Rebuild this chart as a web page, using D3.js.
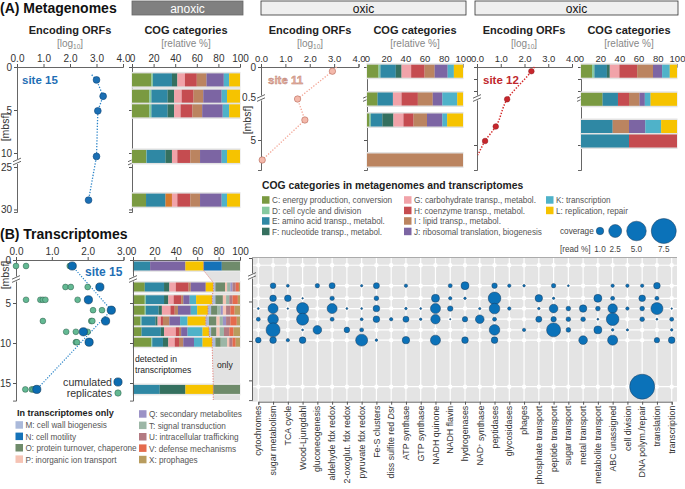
<!DOCTYPE html>
<html><head><meta charset="utf-8">
<script src="https://cdn.jsdelivr.net/npm/d3@7/dist/d3.min.js"></script>
<style>
body{margin:0;background:#fff;}
svg{display:block;}
</style></head><body>
<svg id="c" width="685" height="489"></svg>
<script>
// ---------------- DATA ----------------
const cogKeys = ["C","D","E","F","G","H","I","J","K","L"];
const cogNames = ["C: energy production, conversion","D: cell cycle and division","E: amino acid transp., metabol.","F: nucleotide transp., metabol.",
  "G: carbohydrate transp., metabol.","H: coenzyme transp., metabol.","I : lipid transp., metabol.","J: ribosomal translation, biogenesis",
  "K: transcription","L: replication, repair"];
const onlyKeys = ["M","N","O","P","Q","T","U","V","X"];
const onlyNames = ["M: cell wall biogenesis","N: cell motility","O: protein turnover, chaperone","P: inorganic ion transport",
  "Q: secondary metabolites","T: signal transduction","U: intracellular trafficking","V: defense mechanisms","X: prophages"];
const catColors = {C:"#7a9a41",D:"#86c9a0",E:"#2f88a4",F:"#35705f",F2:"#d6792c",G:"#f1a3a9",H:"#c54c50",I:"#bb8460",J:"#7c65a3",
  K:"#4fb2c9",L:"#f6c300",M:"#aab9da",N:"#1572b8",O:"#6f8b6b",P:"#f6c3b4",Q:"#9b92c6",T:"#9cb6a6",U:"#b37a82",V:"#e56b4d",X:"#b89c5e"};

const orfTicks = [0,1,2,3,4];
const pctTicks = [0,20,40,60,80,100];

// Site 15 metagenomes
const s15Depth = [1.5, 3.4, 5.1, 10.4, 28.9];
const s15Orfs  = [3.0, 3.25, 3.05, 3.0, 2.7];
const s15LineStart = [2.82, 0.9];
const s15Cog = [
  [["C",18],["D",1.4],["E",17.6],["F",5],["G",7],["H",11],["I",9],["J",16],["K",5],["L",10]],
  [["C",16],["D",2],["E",15],["F",6],["G",7],["H",11],["I",9],["J",17],["K",5],["L",12]],
  [["C",16],["D",2],["E",15],["F",6],["G",6],["H",11],["I",9],["J",19],["K",6],["L",10]],
  [["C",13],["D",0.5],["E",17.5],["F",6],["G",5],["H",12],["I",9],["J",20],["K",5],["L",12]],
  [["C",13],["E",18],["F2",6],["G",5],["H",12],["I",9],["J",20],["K",5],["L",12]]
];
const s15YTicks = [0,5,10,25,30];

// Site 11 metagenomes
const s11Depth = [0.07, 0.9, 3.0, 7.0];
const s11Orfs  = [2.93, 1.5, 1.8, 0.05];
const s11LineStart = [3.1, 0];
const s11Cog = [
  [["C",12],["D",2],["E",16],["F",6],["G",10],["H",14],["I",10.5],["J",13.5],["K",6.5],["L",9.5]],
  [["C",11],["E",16],["G",9],["H",17],["I",15.5],["J",10],["K",15.5],["L",6]],
  [["C",2.5],["D",1.5],["E",12],["F",11.5],["G",10.5],["H",10.5],["I",14],["J",16],["K",5],["L",16.5]],
  [["I",100]]
];
const s11YTicks = [0,0.5,5];
const s11YLabels = ["0","0.5","5"];

// Site 12 metagenomes
const s12Depth = [0.07, 0.93, 3.65, 5.1];
const s12Orfs  = [2.29, 1.27, 0.79, 0.34];
const s12LineStart = [2.42, 0];
const s12LineEnd = [0.04, 6.5];
const s12Cog = [
  [["C",11.5],["D",2.5],["E",13],["F",3],["G",10],["H",18.5],["I",16.5],["J",9.5],["K",8],["L",7.5]],
  [["C",22.5],["E",16],["H",11.5],["I",11],["J",5.5],["K",6],["L",27.5]],
  [["E",33],["I",17],["J",17],["K",16.5],["L",16.5]],
  [["E",50],["H",50]]
];
const s12YTicks = [0,0.2,0.4,5.5];

// Site 15 transcriptomes
const bDepth = [0.5, 3.0, 4.6, 5.9, 7.25, 8.6, 9.9, 15.8];
const bReplicates = [
  [0.0,0.28,1.5],[1.38,1.53,2.0],[0.28,0.68,0.75,0.82,1.72],[2.15,2.4],
  [0.75,2.1,2.13],[1.4,1.67,2.0],[1.67,1.7],[0.26,0.44,0.49]
];
const bCumulated = [1.57, 2.34, 2.02, 2.66, 2.5, 1.88, 2.04, 0.58];
const bLineRows = [0, 3, 7];
const bOrfTicks = [0,1,2,3];
const bYTicks = [0,5,10,15];
const bCog = [
  [["E",16],["J",33],["L",17],["N",17],["O",17]],
  [["C",11],["E",18],["F",5],["G",6],["H",12],["I",2],["J",14],["L",7],["M",2],["O",9],["P",2],["T",3],["Q",2],["U",3],["V",3],["X",1]],
  [["C",11],["D",1],["E",17],["F",4],["G",5],["H",7],["I",2],["J",6],["K",6],["L",15],["M",3],["O",7],["P",3],["T",3],["U",3],["V",5],["X",2]],
  [["C",11],["D",1],["E",12],["F",3],["G",8],["H",4],["I",3],["J",12],["K",6],["L",10],["M",3],["O",6],["T",3],["Q",2],["P",3],["U",4],["V",4],["X",5]],
  [["C",7],["D",1],["E",13],["F",2],["G",3],["H",2],["I",6],["J",10],["K",7],["L",17],["M",3],["O",7],["P",3],["T",3],["Q",3],["U",4],["V",6],["X",3]],
  [["C",8],["E",18],["F",3],["G",11],["H",3],["I",2],["J",6],["K",14],["L",6],["M",2],["O",5],["P",3],["T",4],["U",5],["V",4],["X",6]],
  [["C",17],["D",1],["E",10],["F",5],["G",6],["H",4],["I",4],["J",10],["K",8],["L",9],["M",3],["O",5],["T",6],["P",2],["U",3],["V",3],["X",4]],
  [["E",25],["F",24],["L",26],["O",25]]
];
const bBoundary = [66, 75, 74, 70, 68, 71, 74, 75];

// Functional categories (bubble chart)
const funcCats = ["cytochromes","sugar metabolism","TCA cycle","Wood-Ljungdahl","gluconeogenesis","aldehyde fdx redox",
  "2-oxoglut. fdx redox","pyruvate fdx redox","Fe-S clusters","diss sulfite red Dsr","ATP synthase","GTP synthase",
  "NADH quinone","NADH flavin","hydrogenases","NAD+ synthase","peptidases","glycosidases","phages","phosphate transport",
  "peptide transport","sugar transport","metal transport","metabolite transport","ABC unassigned","cell division",
  "DNA polym./repair","translation","transcription"];
// read % per depth row (rows follow bDepth), columns follow funcCats
const bubbleRows = [
  [0,0,0,0,0,0,0,0,0,0,0,0,0,0,0,0,0,0,0,0,0,0,0,0,0,0,0,0,0],
  [0,0.62,0.22,0,0.41,0.70,0,0.15,0.70,0,0.27,0,0,0.35,1.12,0,0.58,0.27,0.17,0,0.41,0.11,0,0,0.27,0.27,0.27,0.81,0],
  [0,0.81,0.81,0.08,0,0.41,0,0,0.45,0,0,0,1.12,0.27,0.17,0,2.39,0,0,0.99,0.15,0,0,1.12,0.35,0,0.81,0.35,0],
  [0.11,1.63,0.08,2.2,0,1.63,0.11,0.11,0.81,0,0.17,0.11,1.63,0.58,0,0.15,1.79,0.27,0,0.17,1.27,0.45,0.99,0.45,1.47,0.27,0.45,2.2,0.08],
  [0.35,1.79,0,2.2,0,0.35,0,0.22,0.81,0.27,0.70,0.17,1.47,0.06,0.58,1.27,0.35,0,0,0.70,0.58,0.45,0.45,0.11,2.39,0,0.45,0.11,0.35],
  [0,2.85,0,0.11,1.27,0,0.62,0.35,0,0,0,0,0,0,0,0,1.79,0,0.27,0,2.85,0.45,0,1.12,0.17,0.15,0,0,0.17],
  [0.62,0.81,0.27,0.81,0,0,0,2.2,0.17,0,0.99,0,1.63,0,0.81,0,0.81,0,0,0,0,0,1.27,0,1.63,0,0,0.58,0.81],
  [0,0,0,0,0,0,0,0,0,0,0,0,0,0,0,0,0,0,0,0,0,0,0,0,0,0,7.5,0,0]
];
const coverageLegend = [1.0, 2.5, 5.0, 7.5];

// ---------------- DRAWING ----------------
const svg = d3.select("#c");
const FONT = '"Liberation Sans", Arial, sans-serif';
svg.attr("font-family", FONT);

function textW(fam, str, size){
  const t = svg.append("text").attr("font-family", fam).attr("font-size", size).text(str);
  const w = t.node().getComputedTextLength(); t.remove(); return w;
}
const probe = "C: energy production, conversion";
const hasNarrow = Math.abs(textW('"Liberation Sans Narrow", monospace', probe, 10) - textW('monospace', probe, 10)) > 1;
const NFONT = hasNarrow ? '"Liberation Sans Narrow", sans-serif' : FONT;
const nsz = s => hasNarrow ? s : s * 0.82;

const AX = "#555", TXT = "#333", TICKFS = 10;
function styleAxis(g, fs){
  g.select(".domain").attr("stroke", AX).attr("stroke-width", 0.9);
  g.selectAll(".tick line").attr("stroke", AX);
  g.selectAll(".tick text").attr("fill", TXT).attr("font-size", fs || TICKFS).attr("font-family", FONT);
  return g;
}
function yBreak(x, y){
  svg.append("rect").attr("x", x-2).attr("y", y-2.5).attr("width", 4).attr("height", 5).attr("fill", "#fff");
  [-1.6, 1.6].forEach(dy => svg.append("line").attr("x1", x-4).attr("x2", x+4)
    .attr("y1", y+dy+1.8).attr("y2", y+dy-1.8).attr("stroke", AX).attr("stroke-width", 0.9));
}
function hdrBox(x0, x1, label, dark){
  svg.append("rect").attr("x", x0).attr("y", 1).attr("width", x1-x0).attr("height", 14)
    .attr("fill", dark ? "#808080" : "#efefef").attr("stroke", dark ? "#666" : "#333").attr("stroke-width", 0.8);
  svg.append("text").attr("x", (x0+x1)/2).attr("y", 12.5).attr("text-anchor", "middle")
    .attr("font-size", 12).attr("fill", dark ? "#fff" : "#111").text(label);
}
function titles(cx, title, unit, sub){
  svg.append("text").attr("x", cx).attr("y", 34).attr("text-anchor", "middle").attr("font-size", 11)
    .attr("font-weight", "bold").attr("fill", "#222").text(title);
  const t = svg.append("text").attr("x", cx).attr("y", 47).attr("text-anchor", "middle").attr("font-size", 10).attr("fill", "#888");
  if (sub) { t.append("tspan").text("[log"); t.append("tspan").attr("font-size", 6.5).attr("dy", 2).text("10"); t.append("tspan").attr("dy", -2).text("]"); }
  else t.text(unit);
}
function drawBars(rows, depths, xs, ys, h, backing){
  rows.forEach((row, i) => {
    const yc = ys(depths[i]);
    if (backing) svg.append("rect").attr("x", xs(0)-0.5).attr("y", yc-h/2-1.5).attr("width", xs(100)-xs(0)+1)
      .attr("height", h+3).attr("fill", backing);
    let acc = 0;
    row.forEach(([k, w]) => {
      svg.append("rect").attr("x", xs(acc)).attr("y", yc-h/2).attr("width", Math.max(0, xs(acc+w)-xs(acc)))
        .attr("height", h).attr("fill", catColors[k]);
      acc += w;
    });
  });
}
function ylabel(x, y, size){
  svg.append("text").attr("transform", `translate(${x},${y}) rotate(-90)`).attr("text-anchor", "middle")
    .attr("font-size", size || 10.5).attr("fill", TXT).text("[mbsf]");
}

// Headers
svg.append("text").attr("x", 0).attr("y", 13).attr("font-size", 14).attr("font-weight", "bold").attr("fill", "#111").text("(A) Metagenomes");
svg.append("text").attr("x", 0).attr("y", 239).attr("font-size", 14).attr("font-weight", "bold").attr("fill", "#111").text("(B) Transcriptomes");
hdrBox(132, 243, "anoxic", true);
hdrBox(261, 466, "oxic", false);
hdrBox(475, 678, "oxic", false);

// ---- Site 15 (A)
{
  const xo = d3.scaleLinear().domain([0,4]).range([17,123]);
  const xc = d3.scaleLinear().domain([0,100]).range([132,240]);
  const y = d3.scaleLinear().domain([0,10.5,25,30.3]).range([67,157.3,167,212]);
  titles(70, "Encoding ORFs", null, true);
  titles(186, "COG categories", "[relative %]");
  styleAxis(svg.append("g").attr("transform","translate(0,67)").call(d3.axisTop(xo).tickValues(orfTicks).tickSize(3).tickPadding(2)));
  styleAxis(svg.append("g").attr("transform","translate(0,67)").call(d3.axisTop(xc).tickValues(pctTicks).tickSize(3).tickPadding(2)));
  styleAxis(svg.append("g").attr("transform","translate(17,0)").call(d3.axisLeft(y).tickValues(s15YTicks).tickSize(3).tickPadding(2)));
  styleAxis(svg.append("g").attr("transform","translate(132,0)").call(d3.axisLeft(y).tickValues(s15YTicks).tickSize(3).tickFormat("")));
  yBreak(17, 161.5); yBreak(132, 161.5);
  ylabel(9, 127);
  drawBars(s15Cog, s15Depth, xc, y, 13, "#e3e3e3");
  const pts = [s15LineStart].concat(s15Depth.map((d,i)=>[s15Orfs[i], d]));
  svg.append("path").attr("d", d3.line().x(d=>xo(d[0])).y(d=>y(d[1]))(pts)).attr("fill","none")
    .attr("stroke","#2b84c8").attr("stroke-width",1.3).attr("stroke-dasharray","1.3,1.6");
  s15Depth.forEach((d,i)=>svg.append("circle").attr("cx",xo(s15Orfs[i])).attr("cy",y(d)).attr("r",3.4)
    .attr("fill","#1b6fb4").attr("stroke","#10487a").attr("stroke-width",0.6));
  svg.append("text").attr("x",22).attr("y",84).attr("font-size",11.5).attr("font-weight","bold").attr("fill","#1f6fb5").text("site 15");
}

// ---- Sites 11 and 12 (A)
const y11 = d3.scaleLinear().domain([0,0.5,0.9,8]).range([67,97,99,170]);
{
  const xo = d3.scaleLinear().domain([0,4]).range([261,358.5]);
  const xc = d3.scaleLinear().domain([0,100]).range([367,463]);
  titles(310, "Encoding ORFs", null, true);
  titles(415, "COG categories", "[relative %]");
  styleAxis(svg.append("g").attr("transform","translate(0,67)").call(d3.axisTop(xo).tickValues(orfTicks).tickSize(3).tickPadding(2)), 9.5);
  styleAxis(svg.append("g").attr("transform","translate(0,67)").call(d3.axisTop(xc).tickValues(pctTicks).tickSize(3).tickPadding(2)), 9.5);
  styleAxis(svg.append("g").attr("transform","translate(261,0)").call(d3.axisLeft(y11).tickValues(s11YTicks)
    .tickFormat((d,i)=>s11YLabels[i]).tickSize(3).tickPadding(2)));
  styleAxis(svg.append("g").attr("transform","translate(367,0)").call(d3.axisLeft(y11).tickValues(s11YTicks).tickSize(3).tickFormat("")));
  yBreak(261, 98); yBreak(367, 98);
  ylabel(251, 120);
  drawBars(s11Cog, s11Depth, xc, y11, 13, "#e3e3e3");
  const pts = [s11LineStart].concat(s11Depth.map((d,i)=>[s11Orfs[i], d]));
  svg.append("path").attr("d", d3.line().x(d=>xo(d[0])).y(d=>y11(d[1]))(pts)).attr("fill","none")
    .attr("stroke","#f3a595").attr("stroke-width",1.3).attr("stroke-dasharray","1.3,1.6");
  s11Depth.forEach((d,i)=>svg.append("circle").attr("cx",xo(s11Orfs[i])).attr("cy",y11(d)).attr("r",3.2)
    .attr("fill","#f4b9ab").attr("stroke","#b5695a").attr("stroke-width",0.6));
  svg.append("text").attr("x",268).attr("y",84).attr("font-size",11.5).attr("font-weight","bold")
    .attr("fill","#e9b3a4").attr("stroke","#b87a6c").attr("stroke-width",0.4).text("site 11");
}
{
  const xo = d3.scaleLinear().domain([0,4]).range([477,572]);
  const xc = d3.scaleLinear().domain([0,100]).range([581,677]);
  titles(524, "Encoding ORFs", null, true);
  titles(629, "COG categories", "[relative %]");
  styleAxis(svg.append("g").attr("transform","translate(0,67)").call(d3.axisTop(xo).tickValues(orfTicks).tickSize(3).tickPadding(2)), 9.5);
  styleAxis(svg.append("g").attr("transform","translate(0,67)").call(d3.axisTop(xc).tickValues(pctTicks).tickSize(3).tickPadding(2)), 9.5);
  styleAxis(svg.append("g").attr("transform","translate(477,0)").call(d3.axisLeft(y11).tickValues(s12YTicks).tickSize(3).tickFormat("")));
  styleAxis(svg.append("g").attr("transform","translate(581,0)").call(d3.axisLeft(y11).tickValues(s12YTicks).tickSize(3).tickFormat("")));
  yBreak(477, 98); yBreak(581, 98);
  drawBars(s12Cog, s12Depth, xc, y11, 13, "#e3e3e3");
  const pts = [s12LineStart].concat(s12Depth.map((d,i)=>[s12Orfs[i], d])).concat([s12LineEnd]);
  svg.append("path").attr("d", d3.line().curve(d3.curveMonotoneY).x(d=>xo(d[0])).y(d=>y11(d[1]))(pts)).attr("fill","none")
    .attr("stroke","#d42a2a").attr("stroke-width",1.5).attr("stroke-dasharray","1.4,1.6");
  s12Depth.forEach((d,i)=>svg.append("circle").attr("cx",xo(s12Orfs[i])).attr("cy",y11(d)).attr("r",2.8)
    .attr("fill","#c8262c").attr("stroke","#8a1a1e").attr("stroke-width",0.5));
  svg.append("text").attr("x",483).attr("y",84).attr("font-size",11.5).attr("font-weight","bold").attr("fill","#c0272d").text("site 12");
}

// ---- COG legend (A)
svg.append("text").attr("x",262).attr("y",189).attr("font-size", nsz(12.6)).attr("font-family", NFONT)
  .attr("font-weight","bold").attr("fill","#222").text("COG categories in metagenomes and transcriptomes");
const legCols = [[262,0,4],[404,4,8],[546,8,10]];
legCols.forEach(([x0,a,b])=>{
  for (let i=a;i<b;i++){
    const yc = 200 + (i-a)*10.5;
    svg.append("rect").attr("x",x0).attr("y",yc-3.8).attr("width",7.5).attr("height",7.5).attr("fill",catColors[cogKeys[i]]);
    svg.append("text").attr("x",x0+10).attr("y",yc+3.3).attr("font-size",nsz(10)).attr("font-family",NFONT)
      .attr("fill","#555").text(cogNames[i]);
  }
});

// ---- Bubble chart (B right)
const xb = d3.scalePoint().domain(funcCats).range([258.3, 671.7]);
const yb = d3.scaleLinear().domain([0,1,2,17.5]).range([258,272.5,277.8,400.1]);
const rScale = d3.scalePow().exponent(0.6).domain([0,7.5]).range([0,12.5]);
{
  const X0 = 252, X1 = 677, Y0 = 257.5, Y1 = 401.7;
  svg.append("rect").attr("x",X0).attr("y",Y0).attr("width",X1-X0).attr("height",Y1-Y0).attr("fill","#e4e4e4");
  funcCats.forEach(c=>svg.append("line").attr("x1",xb(c)).attr("x2",xb(c)).attr("y1",Y0).attr("y2",Y1)
    .attr("stroke","#fff").attr("stroke-width",1.2));
  bDepth.forEach(d=>svg.append("line").attr("x1",X0).attr("x2",X1).attr("y1",yb(d)).attr("y2",yb(d))
    .attr("stroke","#fff").attr("stroke-width",1.2));
  bDepth.forEach(d=>funcCats.forEach(c=>svg.append("circle").attr("cx",xb(c)).attr("cy",yb(d)).attr("r",2.2).attr("fill","#fff")));
  svg.append("line").attr("x1",X0).attr("x2",X1).attr("y1",Y0).attr("y2",Y0).attr("stroke","#999").attr("stroke-width",0.8);
  styleAxis(svg.append("g").attr("transform",`translate(0,${Y1})`).call(d3.axisBottom(xb).tickSize(3).tickFormat("")));
  styleAxis(svg.append("g").attr("transform",`translate(${X0},0)`).call(d3.axisLeft(yb).tickValues(bYTicks).tickSize(3).tickFormat("")));
  yBreak(X0, 276);
  bubbleRows.forEach((row, ri)=>row.forEach((v, ci)=>{
    if (v > 0) svg.append("circle").attr("cx", xb(funcCats[ci])).attr("cy", yb(bDepth[ri])).attr("r", rScale(v))
      .attr("fill","#0b72b9").attr("stroke","#1c3d5c").attr("stroke-width",0.5);
  }));
  funcCats.forEach(c=>{
    const t = svg.append("text").attr("transform",`translate(${xb(c)},${Y1+4}) rotate(-90)`).attr("text-anchor","end")
      .attr("dy","0.35em").attr("font-size",nsz(10.8)).attr("font-family",NFONT).attr("fill","#333");
    if (c === "diss sulfite red Dsr") { t.append("tspan").text("diss sulfite red "); t.append("tspan").attr("font-style","italic").text("Dsr"); }
    else if (c === "NAD+ synthase") { t.append("tspan").text("NAD"); t.append("tspan").attr("dy","-0.4em").attr("font-size",nsz(7)).text("+"); t.append("tspan").attr("dy","0.4em").text(" synthase"); }
    else t.text(c);
  });
  // coverage legend
  svg.append("text").attr("x",560).attr("y",234).attr("font-size",nsz(10)).attr("font-family",NFONT).attr("fill","#444").text("coverage");
  svg.append("text").attr("x",560).attr("y",252).attr("font-size",nsz(10)).attr("font-family",NFONT).attr("fill","#444").text("[read %]");
  let cx = 600;
  coverageLegend.forEach((v,i)=>{
    if (i>0) cx += rScale(coverageLegend[i-1]) + rScale(v) + 5;
    svg.append("circle").attr("cx",cx).attr("cy",231).attr("r",rScale(v)).attr("fill","#0b72b9").attr("stroke","#1c3d5c").attr("stroke-width",0.5);
    svg.append("text").attr("x",cx).attr("y",252).attr("text-anchor","middle").attr("font-size",nsz(10)).attr("font-family",NFONT)
      .attr("fill","#444").text(v.toFixed(1));
  });
}

// ---- B left: ORFs & COG
const yB = d3.scaleLinear().domain([0,1,2,17.2]).range([260,272,279,400.6]);
{
  const xo = d3.scaleLinear().domain([0,3]).range([16,123.5]);
  const xc = d3.scaleLinear().domain([0,100]).range([133,240]);
  // gray "only" region
  const poly = [[bBoundary[0], yB.range()[0]]];
  bDepth.forEach((d,i)=>{ poly.push([bBoundary[i], yB(d)-4.5]); poly.push([bBoundary[i], yB(d)+4.5]); });
  poly.push([bBoundary[bBoundary.length-1], 400]);
  const area = poly.concat([[100,400],[100,260]]);
  svg.append("path").attr("d", d3.line().x(d=>xc(d[0])).y(d=>d[1])(area)+"Z").attr("fill","#e2e2e2");
  drawBars(bCog, bDepth, xc, yB, 9, "#e8e8e8");
  svg.append("path").attr("d", d3.line().x(d=>xc(d[0])).y(d=>d[1])(poly)).attr("fill","none")
    .attr("stroke","#e0706a").attr("stroke-width",0.9).attr("stroke-dasharray","1.2,1.4");
  styleAxis(svg.append("g").attr("transform","translate(0,260)").call(d3.axisTop(xo).tickValues(bOrfTicks).tickSize(3).tickPadding(2)));
  styleAxis(svg.append("g").attr("transform","translate(0,260)").call(d3.axisTop(xc).tickValues(pctTicks).tickSize(3).tickPadding(2)));
  styleAxis(svg.append("g").attr("transform","translate(16,0)").call(d3.axisLeft(yB).tickValues(bYTicks).tickSize(3).tickPadding(2)));
  styleAxis(svg.append("g").attr("transform","translate(133,0)").call(d3.axisLeft(yB).tickValues(bYTicks).tickSize(3).tickFormat("")));
  yBreak(16, 279); yBreak(133, 279);
  ylabel(9, 275);
  const lp = bLineRows.map(i=>[bCumulated[i], bDepth[i]]);
  svg.append("path").attr("d", d3.line().x(d=>xo(d[0])).y(d=>yB(d[1]))(lp)).attr("fill","none")
    .attr("stroke","#2b84c8").attr("stroke-width",1.2).attr("stroke-dasharray","1.2,1.5");
  bReplicates.forEach((reps,i)=>reps.forEach(v=>svg.append("circle").attr("cx",xo(v)).attr("cy",yB(bDepth[i])).attr("r",2.9)
    .attr("fill","#63b993").attr("stroke","#2d5b48").attr("stroke-width",0.5)));
  bCumulated.forEach((v,i)=>svg.append("circle").attr("cx",xo(v)).attr("cy",yB(bDepth[i])).attr("r",4.1)
    .attr("fill","#0b6cb2").attr("stroke","#0c3558").attr("stroke-width",0.6));
  svg.append("text").attr("x",85).attr("y",276).attr("font-size",12).attr("font-weight","bold").attr("fill","#1f6fb5").text("site 15");
  svg.append("text").attr("x",112).attr("y",386).attr("text-anchor","end").attr("font-size",10.6).attr("fill","#333").text("cumulated");
  svg.append("text").attr("x",112).attr("y",397).attr("text-anchor","end").attr("font-size",10.6).attr("fill","#333").text("replicates");
  svg.append("circle").attr("cx",118).attr("cy",382).attr("r",4.1).attr("fill","#0b6cb2").attr("stroke","#0c3558").attr("stroke-width",0.6);
  svg.append("circle").attr("cx",118).attr("cy",393).attr("r",3.2).attr("fill","#63b993").attr("stroke","#2d5b48").attr("stroke-width",0.5);
  svg.append("text").attr("x",135).attr("y",362).attr("font-size",nsz(10.5)).attr("font-family",NFONT).attr("fill","#222").text("detected in");
  svg.append("text").attr("x",135).attr("y",373).attr("font-size",nsz(10.5)).attr("font-family",NFONT).attr("fill","#222").text("transcriptomes");
  svg.append("text").attr("x",217).attr("y",368).attr("font-size",nsz(10.5)).attr("font-family",NFONT).attr("fill","#222").text("only");
}

// ---- B legend: transcriptome-only categories
svg.append("text").attr("x",17).attr("y",416).attr("font-size",nsz(11)).attr("font-family",NFONT)
  .attr("font-weight","bold").attr("fill","#222").text("In transcriptomes only");
[[15.5, 425, 0, 4],[139, 414, 4, 9]].forEach(([x0,y0,a,b])=>{
  for (let i=a;i<b;i++){
    const yc = y0 + (i-a)*11.4;
    svg.append("rect").attr("x",x0).attr("y",yc-3.8).attr("width",7.5).attr("height",7.5).attr("fill",catColors[onlyKeys[i]]);
    svg.append("text").attr("x",x0+10).attr("y",yc+3.3).attr("font-size",nsz(10)).attr("font-family",NFONT)
      .attr("fill","#555").text(onlyNames[i]);
  }
});
</script>
</body></html>
